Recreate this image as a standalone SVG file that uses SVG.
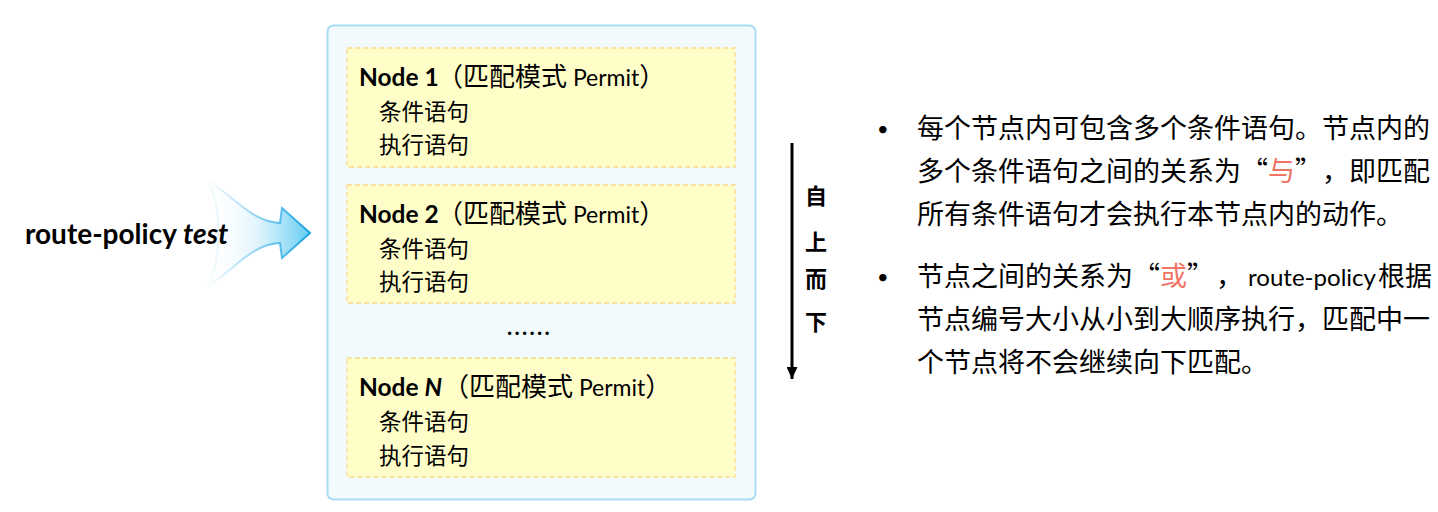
<svg xmlns="http://www.w3.org/2000/svg" width="1438" height="512" viewBox="0 0 1438 512">
<defs>
<linearGradient id="fillGrad" x1="207" y1="0" x2="310" y2="0" gradientUnits="userSpaceOnUse">
<stop offset="0" stop-color="#ffffff" stop-opacity="0"/>
<stop offset="0.5" stop-color="#d6f0fb" stop-opacity="0.8"/>
<stop offset="1" stop-color="#62ccf3"/>
</linearGradient>
<linearGradient id="strokeGrad" x1="207" y1="0" x2="310" y2="0" gradientUnits="userSpaceOnUse">
<stop offset="0" stop-color="#2aaae6" stop-opacity="0"/>
<stop offset="0.55" stop-color="#2aaae6" stop-opacity="0.55"/>
<stop offset="1" stop-color="#1aa3e3"/>
</linearGradient>
<marker id="arrowDown" viewBox="0 0 12 11" refX="12" refY="5.5" markerWidth="12" markerHeight="11" orient="auto" markerUnits="userSpaceOnUse">
<path d="M0,0 L12,5.5 L0,11 Z" fill="#000"/>
</marker>
<style>
.lat{font-family:Lato,"Noto Sans CJK SC",sans-serif;fill:#000}
.cjk{font-family:"Noto Sans CJK SC",sans-serif;fill:#000}
.node{fill:#fffec8;stroke:#fcd98c;stroke-width:1.3;stroke-dasharray:5 3}
.sub{font-size:22.5px}
.body{font-size:27px}
.red{fill:#f07363}
.ord{font-size:22px;font-weight:700}
</style>
</defs>

<g id="input-arrow">
<path d="M207,180 C236,198 252,222 280,223 L282,208 L310,233 L282,258 L280,243 C252,244 236,268 207,287 C222,262 222,204 207,180 Z" fill="url(#fillGrad)" stroke="url(#strokeGrad)" stroke-width="2" stroke-linejoin="miter"/>
<text class="lat" x="25" y="244" font-size="28" font-weight="700">route-policy <tspan font-style="italic">test</tspan></text>
</g>

<g id="route-policy-box">
<rect x="327.5" y="25.5" width="428" height="474" rx="6" fill="#f3fafe" stroke="#a9dcf5" stroke-width="2"/>
</g>

<g id="node-1">
<rect class="node" x="347" y="48" width="388" height="119"/>
<text class="lat" x="359" y="86"><tspan font-size="24.5" font-weight="700">Node 1</tspan><tspan x="437" font-size="26">（匹配模式</tspan><tspan font-size="23"> Permit</tspan><tspan font-size="26">）</tspan></text>
<text class="cjk sub" x="379" y="120">条件语句</text>
<text class="cjk sub" x="379" y="153">执行语句</text>
</g>

<g id="node-2">
<rect class="node" x="347" y="185" width="388" height="118"/>
<text class="lat" x="359" y="223"><tspan font-size="24.5" font-weight="700">Node 2</tspan><tspan x="437" font-size="26">（匹配模式</tspan><tspan font-size="23"> Permit</tspan><tspan font-size="26">）</tspan></text>
<text class="cjk sub" x="379" y="257">条件语句</text>
<text class="cjk sub" x="379" y="290">执行语句</text>
</g>

<g id="ellipsis">
<text class="lat" x="507" y="335" font-size="22" font-weight="700" letter-spacing="2.3">......</text>
</g>

<g id="node-n">
<rect class="node" x="347" y="358" width="388" height="119"/>
<text class="lat" x="359" y="396"><tspan font-size="24.5" font-weight="700">Node <tspan font-style="italic">N</tspan></tspan><tspan x="443" font-size="26">（匹配模式</tspan><tspan font-size="23"> Permit</tspan><tspan font-size="26">）</tspan></text>
<text class="cjk sub" x="379" y="430">条件语句</text>
<text class="cjk sub" x="379" y="464">执行语句</text>
</g>

<g id="connectors">
<line x1="792" y1="143" x2="792" y2="379" stroke="#000" stroke-width="3" marker-end="url(#arrowDown)"/>
</g>

<g id="order-label">
<text class="cjk ord" x="816" y="204" text-anchor="middle">自</text>
<text class="cjk ord" x="816" y="250" text-anchor="middle">上</text>
<text class="cjk ord" x="816" y="287" text-anchor="middle">而</text>
<text class="cjk ord" x="816" y="330" text-anchor="middle">下</text>
</g>

<g id="notes">
<text class="lat" x="877" y="136" font-size="20">•</text>
<text class="cjk body" x="917" y="138">每个节点内可包含多个条件语句。节点内的</text>
<text class="cjk body" x="917" y="181">多个条件语句之间的关系为“<tspan class="red">与</tspan>”<tspan x="1322">，即匹配</tspan></text>
<text class="cjk body" x="917" y="224">所有条件语句才会执行本节点内的动作。</text>
<text class="lat" x="877" y="284" font-size="20">•</text>
<text class="cjk body" x="917" y="286">节点之间的关系为“<tspan class="red">或</tspan>”<tspan x="1216">，</tspan><tspan x="1248" class="lat" font-size="24" textLength="128" lengthAdjust="spacingAndGlyphs">route-policy</tspan><tspan x="1378">根据</tspan></text>
<text class="cjk body" x="917" y="329">节点编号大小从小到大顺序执行，匹配中一</text>
<text class="cjk body" x="917" y="372">个节点将不会继续向下匹配。</text>
</g>
</svg>
